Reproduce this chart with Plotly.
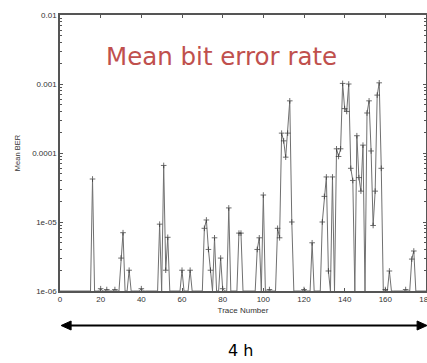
import plotly.graph_objects as go

# ---- data ----
trace_numbers = [16, 20, 23, 27, 30, 31, 34, 40, 49, 51, 52, 53, 60, 64, 71, 72, 73, 74,
                 76, 79, 80, 83, 88, 89, 97, 98, 100, 103, 107, 108, 109, 110, 111, 112,
                 113, 114, 120, 124, 129, 130, 131, 132, 134, 136, 137, 138, 139, 140,
                 141, 142, 143, 144, 146, 147, 148, 149, 151, 152, 153, 154, 155, 156,
                 157, 158, 160, 162, 170, 173, 174]
mean_ber = [4.2e-5, 1.08e-6, 1.05e-6, 1.05e-6, 3.0e-6, 7.0e-6, 2.0e-6, 1.08e-6, 9.3e-6,
            6.6e-5, 2.0e-6, 6.0e-6, 2.0e-6, 2.0e-6, 8.1e-6, 1.07e-5, 4.0e-6, 2.0e-6,
            5.9e-6, 3.0e-6, 1.08e-6, 1.6e-5, 6.9e-6, 6.9e-6, 4.0e-6, 5.9e-6, 2.46e-5,
            1.05e-6, 8.1e-6, 5.9e-6, 1.94e-4, 1.5e-4, 8.7e-5, 1.94e-4, 5.7e-4, 1.0e-5,
            1.05e-6, 5.0e-6, 1.0e-5, 2.35e-5, 4.5e-5, 1.95e-6, 4.5e-5, 1.15e-4, 8.9e-5,
            1.15e-4, 1.02e-3, 4.4e-4, 4.0e-4, 1.0e-3, 6.0e-5, 4.0e-5, 1.78e-4, 4.4e-5,
            2.8e-5, 1.3e-4, 3.8e-4, 5.7e-4, 1.07e-4, 8.9e-6, 2.8e-5, 6.9e-4, 1.04e-3,
            6.0e-5, 1.05e-6, 1.95e-6, 1.05e-6, 2.9e-6, 3.8e-6]
ber_floor = 1e-6          # traces with no errors sit on the axis floor
trace_range = (0, 180)

x_ticks = [0, 20, 40, 60, 80, 100, 120, 140, 160, 180]
y_ticks = [1e-6, 1e-5, 1e-4, 1e-3, 1e-2]
y_ticklabels = ["1e-06", "1e-05", "0.0001", "0.001", "0.01"]

# full series: every trace, zero-error traces on the floor
lookup = dict(zip(trace_numbers, mean_ber))
xs = list(range(trace_range[0], trace_range[1] + 1))
ys = [lookup.get(t, ber_floor) for t in xs]
msize = [4 if t in lookup else 0 for t in xs]

minor_vals = [m * 10.0 ** e for e in range(-6, -2) for m in range(2, 10)]

fig = go.Figure()
fig.add_trace(go.Scatter(
    x=xs, y=ys, mode="lines+markers",
    line=dict(color="#707070", width=1),
    marker=dict(symbol="cross-thin", size=msize, line=dict(color="#333333", width=1),
                color="#333333"),
    hoverinfo="skip",
))

axis_font = dict(family="Liberation Sans, Arial, sans-serif", size=8, color="#333333")

fig.update_layout(
    width=427, height=363,
    margin=dict(l=60, r=1, t=15, b=72),
    plot_bgcolor="white", paper_bgcolor="white",
    showlegend=False,
    xaxis=dict(
        range=list(trace_range), tickmode="array", tickvals=x_ticks,
        ticks="inside", ticklen=3, tickcolor="#555555", tickwidth=1,
        showline=True, linecolor="#555555", linewidth=1.5, mirror="ticks",
        showgrid=False, zeroline=False, automargin=False,
        ticklabeloverflow="allow",
        tickfont=axis_font,
        title=dict(text="Trace Number", font=axis_font, standoff=4),
    ),
    yaxis=dict(
        type="log", range=[-6, -2], tickmode="array", tickvals=y_ticks,
        ticktext=y_ticklabels,
        ticks="inside", ticklen=3, tickcolor="#555555", tickwidth=1,
        minor=dict(tickmode="array", tickvals=minor_vals, ticks="inside", ticklen=2,
                   tickcolor="#555555", showgrid=False),
        showline=True, linecolor="#555555", linewidth=1.5, mirror="ticks",
        showgrid=False, zeroline=False, automargin=False,
        tickfont=axis_font,
        title=dict(text="Mean BER", font=dict(family="Liberation Sans, Arial, sans-serif",
                                               size=7.5, color="#333333"), standoff=11),
    ),
)

# title annotation
fig.add_annotation(
    text="Mean bit error rate", xref="paper", yref="paper", x=0.12, y=0.85,
    xanchor="left", yanchor="middle", showarrow=False,
    font=dict(family="DejaVu Sans, Verdana, sans-serif", size=24.5, color="#C0504D"),
)
# duration label
fig.add_annotation(
    text="4 h", xref="paper", yref="paper", x=0.492, y=-0.214,
    xanchor="center", yanchor="middle", showarrow=False,
    font=dict(family="DejaVu Sans, Verdana, sans-serif", size=16, color="#000000"),
)

# double-headed arrow
ay = -0.125
hx = 10 / 366
hy = 4.5 / 276
fig.add_shape(type="line", xref="paper", yref="paper", x0=0.02, x1=0.985, y0=ay, y1=ay,
              line=dict(color="black", width=2))
fig.add_shape(type="path", xref="paper", yref="paper",
              path=f"M 0.003 {ay} L {0.003 + hx} {ay + hy} L {0.003 + hx} {ay - hy} Z",
              fillcolor="black", line=dict(color="black", width=1))
fig.add_shape(type="path", xref="paper", yref="paper",
              path=f"M 1.003 {ay} L {1.003 - hx} {ay + hy} L {1.003 - hx} {ay - hy} Z",
              fillcolor="black", line=dict(color="black", width=1))

fig.write_html("out.html")
